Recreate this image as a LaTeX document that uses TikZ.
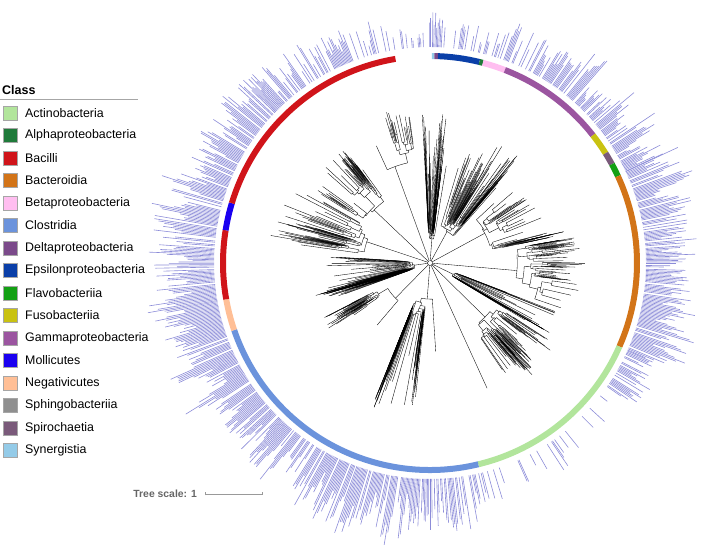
\documentclass[tikz,border=0pt]{standalone}
\usepackage{fontspec}
\setmainfont{Liberation Sans}
\usetikzlibrary{arrows.meta}

\definecolor{actino}{RGB}{178,229,156}
\definecolor{alpha}{RGB}{31,122,58}
\definecolor{bacilli}{RGB}{208,20,26}
\definecolor{bactero}{RGB}{210,116,24}
\definecolor{beta}{RGB}{255,190,240}
\definecolor{clostr}{RGB}{107,147,220}
\definecolor{delta}{RGB}{123,74,138}
\definecolor{epsilon}{RGB}{10,63,168}
\definecolor{flavo}{RGB}{19,160,20}
\definecolor{fuso}{RGB}{201,194,18}
\definecolor{gamma}{RGB}{155,85,160}
\definecolor{mollic}{RGB}{26,0,240}
\definecolor{negativ}{RGB}{255,191,150}
\definecolor{sphingo}{RGB}{143,143,143}
\definecolor{spiro}{RGB}{122,90,122}
\definecolor{synerg}{RGB}{148,203,232}
\definecolor{barblue}{RGB}{128,128,212}

\tikzset{
  treeline/.style={line width=0.35pt, draw=black},
  barline/.style={line width=0.6pt, draw=barblue, opacity=0.9},
  ring/.style={line width=6pt},
  swatch/.style={draw=black!35, line width=0.5pt, minimum size=14pt, inner sep=0pt},
  legtext/.style={font=\fontsize{12.4}{14}\selectfont, inner sep=0pt, anchor=west},
}

% one branch of the tree: #1,#2 angles, #3 radius, #4 levels left
\newcommand\treebranch[4]{%
  \begingroup
  \pgfmathsetmacro\brmid{(#1+#2)/2}%
  \pgfmathtruncatemacro\brleaf{(#4<1)||(rnd<0.08)}%
  \ifnum\brleaf=1
    \pgfmathsetmacro\brrad{#3+\Lterm*(0.35+0.65*rnd)}%
    \draw[treeline] (\brmid:#3) -- (\brmid:\brrad);
  \else
    \pgfmathsetmacro\brrad{#3+\Lint*(0.1+1.5*rnd*rnd)}%
    \pgfmathsetmacro\brsplit{#1+(#2-#1)*(0.12+0.76*rnd)}%
    \pgfmathsetmacro\brma{(#1+\brsplit)/2}%
    \pgfmathsetmacro\brmb{(\brsplit+#2)/2}%
    \draw[treeline] (\brmid:#3) -- (\brmid:\brrad);
    \draw[treeline] (\brma:\brrad) arc[start angle=\brma, end angle=\brmb, radius=\brrad pt];
    \pgfmathtruncatemacro\brlev{#4-1}%
    \edef\brnext{\noexpand\treebranch{#1}{\brsplit}{\brrad}{\brlev}%
      \noexpand\treebranch{\brsplit}{#2}{\brrad}{\brlev}}%
    \brnext
  \fi
  \endgroup}

% a clade: #1,#2 clockwise from top, #3 stem radius, #4 depth, #5 inner, #6 tip length
\newcommand\clade[6]{%
  \begingroup
  \def\Lint{#5}\def\Lterm{#6}%
  \pgfmathsetmacro\cla{90-(#1)}\pgfmathsetmacro\clb{90-(#2)}%
  \pgfmathsetmacro\clmid{(\cla+\clb)/2}%
  \draw[treeline] (\clmid:2.5) -- (\clmid:#3);
  \edef\clnext{\noexpand\treebranch{\cla}{\clb}{#3}{#4}}\clnext
  \endgroup}

\begin{document}
\begin{tikzpicture}[x=1pt, y=1pt]
  \useasboundingbox (0,0) rectangle (708,545);
  \pgfmathsetseed{42}

  % legend
  \node[font=\bfseries\fontsize{12.5}{14}\selectfont, anchor=west, inner sep=0pt] (title) at (2,455) {Class};
  \draw[gray!70, line width=0.8pt] (0,446) -- (138,446);
  \foreach \lab/\col [count=\i from 0] in {Actinobacteria/actino, Alphaproteobacteria/alpha,
      Bacilli/bacilli, Bacteroidia/bactero, Betaproteobacteria/beta, Clostridia/clostr,
      Deltaproteobacteria/delta, Epsilonproteobacteria/epsilon, Flavobacteriia/flavo,
      Fusobacteriia/fuso, Gammaproteobacteria/gamma, Mollicutes/mollic, Negativicutes/negativ,
      Sphingobacteriia/sphingo, Spirochaetia/spiro, Synergistia/synerg}{
    \node[swatch, fill=\col] (sw\i) at (10,432-22.5*\i) {};
    \node[legtext] (lb\i) at (25,432-22.5*\i) {\lab};
  }

  % tree scale
  \node[font=\bfseries\fontsize{10.4}{12}\selectfont, text=black!60, anchor=east, inner sep=0pt] (scale) at (197,51) {Tree scale: 1};
  \draw[black!40, line width=0.8pt, {Bar[width=3pt]}-{Bar[width=3pt]}] (205,51) -- (263,51);

  \begin{scope}[shift={(430,282)}]
    % class ring
    \foreach \ta/\tb/\col in {0.5/1.2/synerg, 1.2/2.2/delta, 2.2/13.8/epsilon, 13.8/14.8/alpha,
        14.8/21.2/beta, 21.2/51.9/gamma, 51.9/58/fuso, 58/61.5/spiro, 61.5/65.2/flavo,
        65.2/113.8/bactero, 113.8/166.5/actino, 166.5/251.1/clostr, 251.1/259.9/negativ,
        259.9/279.1/bacilli, 279.1/286.8/mollic, 286.8/350.4/bacilli}
      \draw[ring, draw=\col] (90-\ta:207) arc[start angle=90-\ta, end angle=90-\tb, radius=207pt];

    % bars
    \gdef\bprev{0.5}
    \foreach \ta/\tb/\blen/\bden in {-10/0/25/0.3, 0/3/48/0.9, 3/14/30/0.35, 14/30/38/0.5,
        30/52/48/0.7, 52/65/58/0.8, 65/90/62/0.85, 90/114/58/0.85, 114/125/45/0.6,
        125/166/35/0.2, 166/180/52/0.6, 180/200/70/0.9, 200/230/64/0.9, 230/260/72/0.95,
        260/290/74/0.9, 290/320/54/0.8, 320/340/44/0.6, 340/350/36/0.4}{
      \pgfmathsetmacro\tc{\ta+0.33}
      \foreach \ang in {\ta,\tc,...,\tb}{
        \pgfmathsetmacro\bfac{0.55*\bprev+0.45*rnd}
        \xdef\bprev{\bfac}
        \pgfmathtruncatemacro\bon{rnd<\bden}
        \ifnum\bon=1
          \pgfmathsetmacro\bphi{90-(\ang)}
          \pgfmathsetmacro\bend{219+\blen*(0.08+1.15*\bfac^1.4)}
          \draw[barline] (\bphi:216) -- (\bphi:\bend);
        \fi
      }
    }

    % tree
    \draw[treeline] (85.5:2.5) arc[start angle=85.5, end angle=-250, radius=2.5pt];
    \foreach \ta/\tb/\rs/\dp/\li/\lt in {-3/12/20/6/5/115, 15/42/30/7/7/85, 45/78/60/6/10/40,
        80/110/80/6/9/35, 111/121/25/5/4/110, 123/146/75/6/11/45, 148/163/105/5/11/40,
        167/202/35/7/5/95, 206/243/45/6/10/40, 250/274/15/7/4/85, 277/300/65/6/11/65,
        302/325/70/6/10/40, 328/352/95/5/10/30}
      \clade{\ta}{\tb}{\rs}{\dp}{\li}{\lt};
  \end{scope}
\end{tikzpicture}
\end{document}
